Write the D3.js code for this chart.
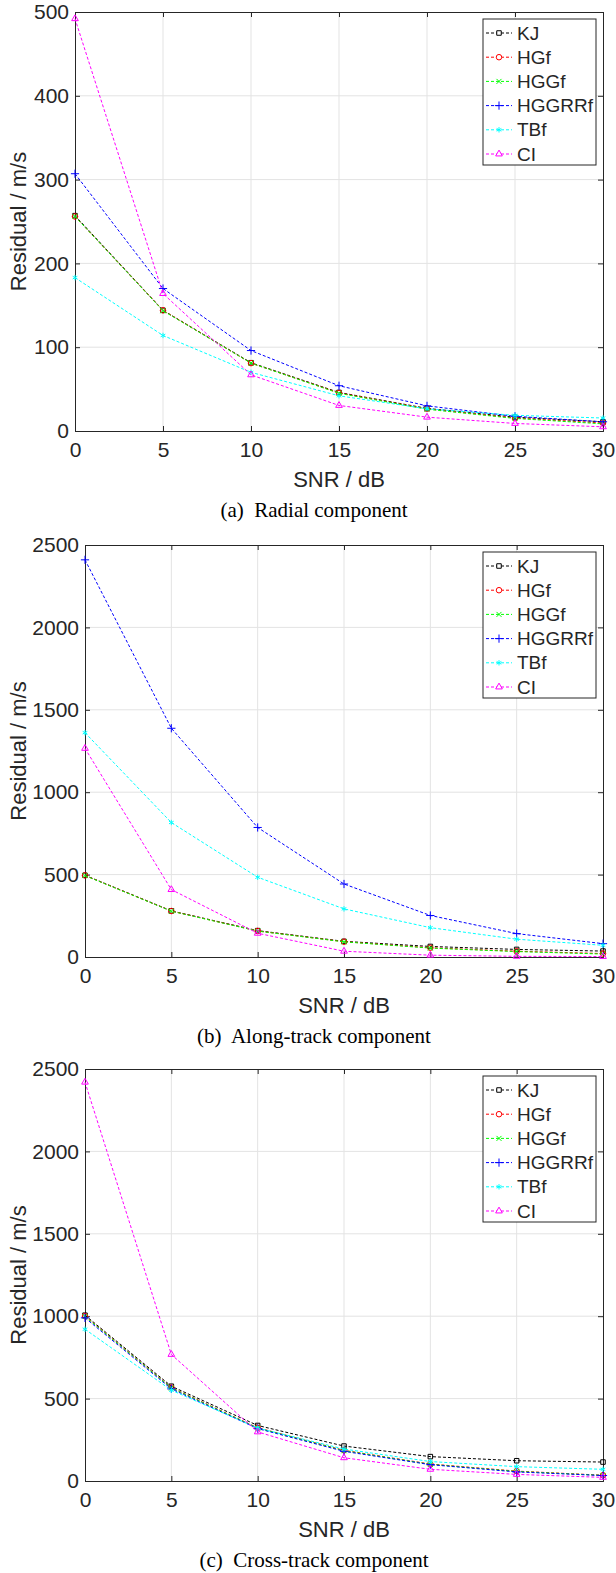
<!DOCTYPE html>
<html>
<head>
<meta charset="utf-8">
<script src="https://cdn.jsdelivr.net/npm/d3@7"></script>
<style>
  html, body { margin: 0; padding: 0; background: #fff; }
  svg { display: block; }
  text { font-family: "Liberation Sans", Arial, sans-serif; fill: #262626; }
  .caption { font-family: "Liberation Serif", "Times New Roman", serif; fill: #000; }
</style>
</head>
<body>
<div id="chart"></div>
<script>
// SNR sweep and the six estimators
var snrDb = [0, 5, 10, 15, 20, 25, 30];
var seriesNames = ["KJ", "HGf", "HGGf", "HGGRRf", "TBf", "CI"];

// residuals per estimator, in the order of seriesNames
var radialValues = [
    [257, 144, 81.5, 46, 27, 16.5, 11],
    [256, 144, 81, 45.5, 26.5, 15.5, 9.5],
    [256, 143.5, 81, 45, 26, 15, 8.5],
    [307, 170, 96, 54, 30, 17.5, 11],
    [183, 114, 70, 42, 26.5, 18.7, 15.5],
    [492, 164, 67, 30.5, 16.5, 9, 5]
];
var alongValues = [
    [496, 280, 160, 95, 64, 46, 36],
    [495, 279, 158, 93, 56, 35, 21],
    [494, 278, 157, 92, 54, 33, 18],
    [2410, 1388, 786, 443, 252, 142, 81],
    [1361, 816, 484, 292, 178, 108, 71],
    [1266, 409, 144, 35, 11, 4, 3]
];
var crossValues = [
    [1006, 575, 337, 212, 148, 123, 115],
    [1000, 567, 323, 186, 103, 60, 35],
    [998, 565, 321, 184, 101, 58, 34],
    [990, 559, 318, 180, 99, 55, 33],
    [921, 551, 321, 194, 118, 87, 71],
    [2420, 768, 298, 141, 71, 40, 22]
];

var radialTicks = [0, 100, 200, 300, 400, 500];
var trackTicks = [0, 500, 1000, 1500, 2000, 2500];

var seriesColors = ["#000000", "#ff0000", "#00ff00", "#0000ff", "#00ffff", "#ff00ff"];
var seriesMarkers = [d3.symbolSquare2, d3.symbolCircle, d3.symbolTimes, d3.symbolPlus, d3.symbolAsterisk, d3.symbolTriangle2];
var markerSizes = [26, 24, 18, 24, 20, 32];

var W = 616, H = 1573;
var svg = d3.select("#chart").append("svg")
    .attr("width", W)
    .attr("height", H);

svg.append("rect").attr("width", W).attr("height", H).attr("fill", "#fff");

var panels = [
    {values: radialValues, ticks: radialTicks, left: 75, top: 12, bottom: 431, caption: "(a)\u00a0 Radial component"},
    {values: alongValues, ticks: trackTicks, left: 85, top: 545, bottom: 957, caption: "(b)\u00a0 Along-track component"},
    {values: crossValues, ticks: trackTicks, left: 85, top: 1069, bottom: 1481, caption: "(c)\u00a0 Cross-track component"}
];

panels.forEach(function(p) { drawPanel(p); });

function drawPanel(p) {
    var right = 603;
    var x = d3.scaleLinear().domain([0, 30]).range([p.left, right]);
    var y = d3.scaleLinear().domain([0, d3.max(p.ticks)]).range([p.bottom, p.top]);
    var g = svg.append("g");

    // grid
    g.append("g").selectAll("line.gx")
        .data(snrDb.slice(1, -1))
        .enter().append("line")
        .attr("x1", d => x(d)).attr("x2", d => x(d))
        .attr("y1", p.top).attr("y2", p.bottom)
        .attr("stroke", "#e3e3e3").attr("stroke-width", 1);
    g.append("g").selectAll("line.gy")
        .data(p.ticks.slice(1, -1))
        .enter().append("line")
        .attr("x1", p.left).attr("x2", right)
        .attr("y1", d => y(d)).attr("y2", d => y(d))
        .attr("stroke", "#e3e3e3").attr("stroke-width", 1);

    // axes, ticks inward on all four sides
    var tl = 5;
    var fmt = d3.format("d");
    var xb = g.append("g").attr("transform", "translate(0," + p.bottom + ")")
        .call(d3.axisBottom(x).tickValues(snrDb).tickSize(-tl).tickFormat(fmt));
    var xt = g.append("g").attr("transform", "translate(0," + p.top + ")")
        .call(d3.axisTop(x).tickValues(snrDb).tickSize(-tl).tickFormat(""));
    var yl = g.append("g").attr("transform", "translate(" + p.left + ",0)")
        .call(d3.axisLeft(y).tickValues(p.ticks).tickSize(-tl).tickPadding(6).tickFormat(fmt));
    var yr = g.append("g").attr("transform", "translate(" + right + ",0)")
        .call(d3.axisRight(y).tickValues(p.ticks).tickSize(-tl).tickFormat(""));

    [xb, xt, yl, yr].forEach(function(a) {
        a.select(".domain").attr("stroke", "#262626").attr("stroke-width", 1);
        a.selectAll(".tick line").attr("stroke", "#262626");
        a.selectAll(".tick text")
            .attr("font-size", 21)
            .attr("font-family", "Liberation Sans, Arial, sans-serif")
            .attr("fill", "#262626");
    });
    xb.selectAll(".tick text").attr("dy", "0.71em").attr("y", 11);

    // series
    var line = d3.line().x((d, i) => x(snrDb[i])).y(d => y(d));
    p.values.forEach(function(vals, k) {
        g.append("path")
            .datum(vals)
            .attr("d", line)
            .attr("fill", "none")
            .attr("stroke", seriesColors[k])
            .attr("stroke-width", 1)
            .attr("stroke-dasharray", "3,2");
        g.append("g").selectAll("path")
            .data(vals)
            .enter().append("path")
            .attr("transform", (d, i) => "translate(" + x(snrDb[i]) + "," + y(d) + ")")
            .attr("d", d3.symbol().type(seriesMarkers[k]).size(markerSizes[k]))
            .attr("fill", "none")
            .attr("stroke", seriesColors[k])
            .attr("stroke-width", 1);
    });

    // labels
    g.append("text")
        .attr("x", (p.left + right) / 2)
        .attr("y", p.bottom + 48)
        .attr("dy", "0.35em")
        .attr("text-anchor", "middle")
        .attr("font-size", 22)
        .text("SNR / dB");
    g.append("text")
        .attr("transform", "translate(18," + (p.top + p.bottom) / 2 + ") rotate(-90)")
        .attr("dy", "0.35em")
        .attr("text-anchor", "middle")
        .attr("font-size", 22)
        .text("Residual / m/s");
    g.append("text")
        .attr("class", "caption")
        .attr("x", 314)
        .attr("y", p.bottom + 79)
        .attr("dy", "0.35em")
        .attr("text-anchor", "middle")
        .attr("font-size", 21)
        .text(p.caption);

    // legend
    var lx = 483, ly = p.top + 7, lw = 113, lh = 146, rowH = 24.2;
    var leg = g.append("g");
    leg.append("rect")
        .attr("x", lx).attr("y", ly).attr("width", lw).attr("height", lh)
        .attr("fill", "#fff").attr("stroke", "#262626").attr("stroke-width", 1);
    seriesNames.forEach(function(name, k) {
        var cy = ly + 14 + k * rowH;
        leg.append("line")
            .attr("x1", lx + 3).attr("x2", lx + 29)
            .attr("y1", cy).attr("y2", cy)
            .attr("stroke", seriesColors[k]).attr("stroke-width", 1)
            .attr("stroke-dasharray", "3,2");
        leg.append("path")
            .attr("transform", "translate(" + (lx + 16) + "," + cy + ")")
            .attr("d", d3.symbol().type(seriesMarkers[k]).size(markerSizes[k]))
            .attr("fill", "#fff")
            .attr("stroke", seriesColors[k]).attr("stroke-width", 1);
        leg.append("text")
            .attr("x", lx + 34).attr("y", cy)
            .attr("dy", "0.35em")
            .attr("font-size", 19)
            .attr("fill", "#000")
            .text(name);
    });
}
</script>
</body>
</html>
